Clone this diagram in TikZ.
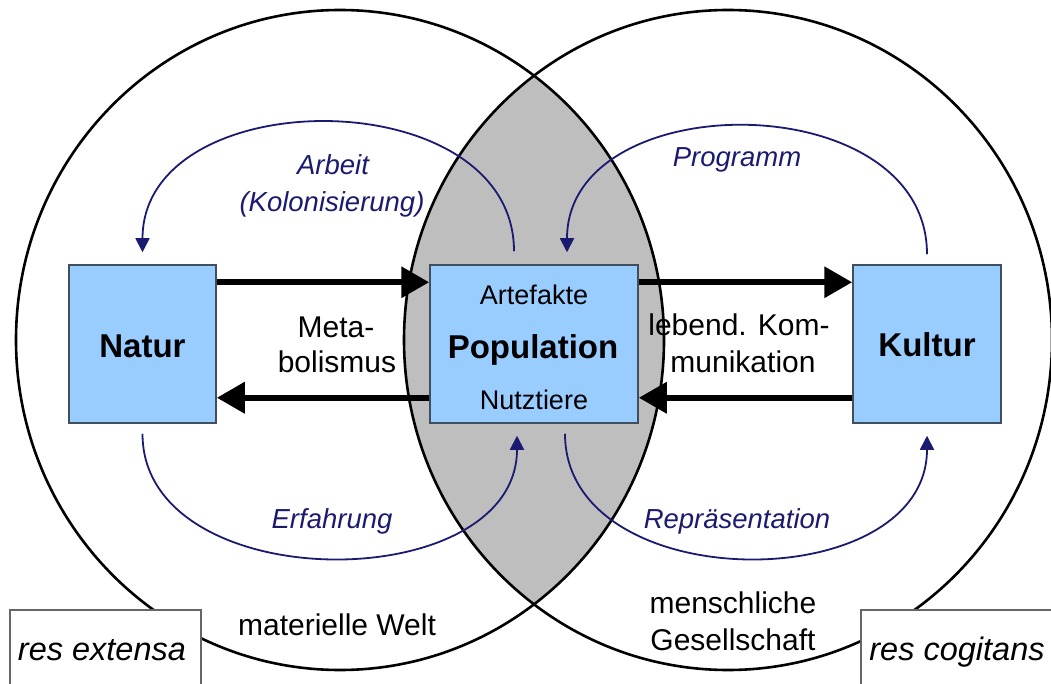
\documentclass[tikz,border=0pt]{standalone}
\usepackage{fontspec}
\setmainfont{Liberation Sans}
\usetikzlibrary{arrows.meta,calc}
\definecolor{boxblue}{HTML}{99CCFF}
\definecolor{boxedge}{HTML}{3F4F5F}
\definecolor{navyc}{HTML}{1A1A70}
\definecolor{lensgray}{HTML}{BEBEBE}
\definecolor{framegray}{HTML}{666666}
\begin{document}
\begin{tikzpicture}[x=1pt,y=-1pt,
  bluebox/.style={draw=boxedge, line width=1.5pt, fill=boxblue, minimum width=#1, minimum height=158pt, inner sep=0pt},
  bigarrow/.style={line width=6.5pt, -{Triangle[length=28pt,width=30pt]}},
  navyarc/.style={draw=navyc, line width=1.8pt, -{Triangle[length=14pt,width=14pt]}},
  bigtxt/.style={font=\fontsize{33}{39}\selectfont\bfseries, inner sep=0pt, anchor=base},
  midtxt/.style={font=\fontsize{27}{32}\selectfont, inner sep=0pt, anchor=base},
  blacktxt/.style={font=\fontsize{30}{36}\selectfont, inner sep=0pt, anchor=base},
  navytxt/.style={font=\fontsize{27.5}{33}\selectfont\itshape, text=navyc, inner sep=0pt, anchor=base},
  restxt/.style={font=\fontsize{32.5}{38}\selectfont\itshape, inner sep=0pt, anchor=base},
  framebox/.style={fill=white, draw=framegray, line width=1.3pt}
]
\useasboundingbox (0,0) rectangle (1051,684);
% lens
\begin{scope}
  \clip (340,340) ellipse [x radius=324pt, y radius=330pt];
  \fill[lensgray] (728,340) ellipse [x radius=324pt, y radius=330pt];
\end{scope}
\draw[line width=2.6pt] (340,340) ellipse [x radius=324pt, y radius=330pt];
\draw[line width=2.6pt] (728,340) ellipse [x radius=324pt, y radius=330pt];

% boxes
\node[bluebox=147pt] (natur) at (142.5,344) {};
\node[bluebox=208pt] (pop) at (534,344) {};
\node[bluebox=148pt] (kultur) at (927,344) {};

% thick arrows
\draw[bigarrow] ([yshift=-18pt]natur.north east) -- ([yshift=-18pt]pop.north west);
\draw[bigarrow] ([yshift=-18pt]pop.north east) -- ([yshift=-18pt]kultur.north west);
\draw[bigarrow] ([yshift=26pt]pop.south west) -- ([yshift=26pt]natur.south east);
\draw[bigarrow] ([yshift=26pt]kultur.south west) -- ([yshift=26pt]pop.south east);

% box texts
\node[bigtxt] (naturtxt) at (142.5,357) {Natur};
\node[bigtxt] (kulturtxt) at (927,356) {Kultur};
\node[bigtxt] (poptxt) at (533,358) {Population};
\node[midtxt] (arte) at (534,305) {Artefakte};
\node[midtxt] (nutz) at (534,409) {Nutztiere};

% curved navy arrows
\draw[navyarc] ([shift={(-20pt,13pt)}]pop.north) .. controls +(0,-172) and +(0,-172) .. ([yshift=12pt]natur.north);
\draw[navyarc] ([yshift=10pt]kultur.north) .. controls +(0,-170) and +(0,-168) .. ([shift={(33pt,12pt)}]pop.north);
\draw[navyarc] ([yshift=-10pt]natur.south) .. controls +(0,165) and +(0,163) .. ([shift={(-17pt,-12pt)}]pop.south);
\draw[navyarc] ([shift={(31pt,-10pt)}]pop.south) .. controls +(0,165) and +(0,163) .. ([yshift=-12pt]kultur.south);

% navy labels
\node[navytxt] (arbeit) at (333,175) {Arbeit};
\node[navytxt] (kolon) at (332,212) {(Kolonisierung)};
\node[navytxt] (progr) at (737,167) {Programm};
\node[navytxt] (erfahr) at (332,528) {Erfahrung};
\node[navytxt] (repr) at (737,528) {Repräsentation};

% black labels
\node[blacktxt] (meta1) at (336,337) {Meta-};
\node[blacktxt] (meta2) at (337,372) {bolismus};
\node[blacktxt] (komm1) at (739,335) {lebend. Kom-};
\node[blacktxt] (komm2) at (743,372) {munikation};
\node[blacktxt] (matw) at (337,635) {materielle Welt};
\node[blacktxt] (mensch1) at (733,613) {menschliche};
\node[blacktxt] (mensch2) at (733,650) {Gesellschaft};

% res boxes
\path[framebox] (10,688) -- (10,610) -- (201,610) -- (201,688);
\path[framebox] (1055,610) -- (861,610) -- (861,688);
\node[restxt] (resext) at (102,660) {res extensa};
\node[restxt] (rescog) at (957,660) {res cogitans};
\end{tikzpicture}
\end{document}
